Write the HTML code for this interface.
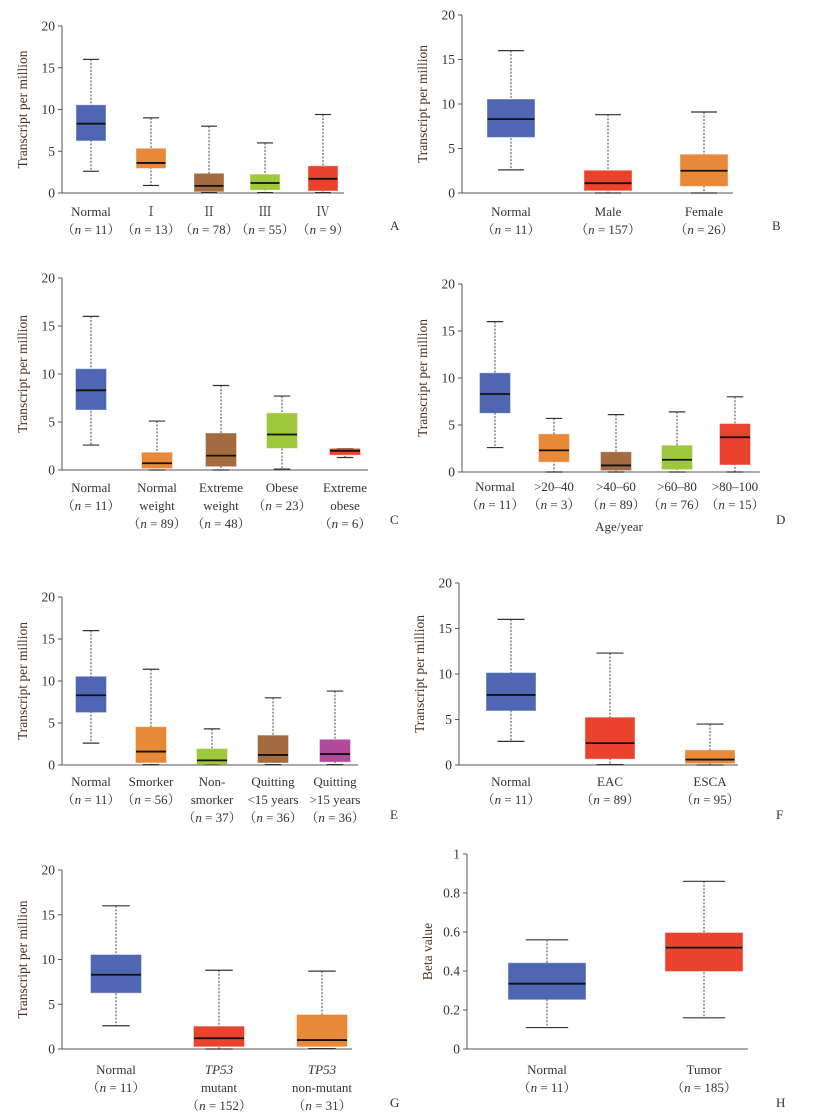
<!DOCTYPE html>
<html><head><meta charset="utf-8">
<style>
html,body{margin:0;padding:0;background:#fff;}
svg{display:block;}
text{font-family:"Liberation Serif","Noto Serif CJK SC",serif;fill:#333;}
</style></head>
<body>
<svg id="fig" width="816" height="1120" viewBox="0 0 816 1120" xmlns="http://www.w3.org/2000/svg"></svg>
<script>
// ---- data arrays (lo, q1, median, q3, hi) ----
const catsA=[["Normal","(n = 11)"],["Ⅰ","(n = 13)"],["Ⅱ","(n = 78)"],["Ⅲ","(n = 55)"],["Ⅳ","(n = 9)"]];
const loA=[2.6,0.9,0.05,0.05,0.05], q1A=[6.3,3.0,0.2,0.4,0.3], medA=[8.3,3.6,0.85,1.2,1.7], q3A=[10.5,5.3,2.3,2.2,3.2], hiA=[16,9,8,6,9.4];
const catsB=[["Normal","(n = 11)"],["Male","(n = 157)"],["Female","(n = 26)"]];
const loB=[2.6,0,0], q1B=[6.3,0.3,0.8], medB=[8.3,1.1,2.5], q3B=[10.5,2.5,4.3], hiB=[16,8.8,9.1];
const catsC=[["Normal","(n = 11)"],["Normal","weight","(n = 89)"],["Extreme","weight","(n = 48)"],["Obese","(n = 23)"],["Extreme","obese","(n = 6)"]];
const loC=[2.6,0,0,0.1,1.3], q1C=[6.3,0.2,0.4,2.3,1.6], medC=[8.3,0.7,1.5,3.7,2.0], q3C=[10.5,1.8,3.8,5.9,2.2], hiC=[16,5.1,8.8,7.7,2.2];
const catsD=[["Normal","(n = 11)"],[">20–40","(n = 3)"],[">40–60","(n = 89)"],[">60–80","(n = 76)"],[">80–100","(n = 15)"]];
const loD=[2.6,0,0,0,0], q1D=[6.3,1.1,0.2,0.3,0.8], medD=[8.3,2.3,0.7,1.3,3.7], q3D=[10.5,4.0,2.1,2.8,5.1], hiD=[16,5.7,6.1,6.4,8.0];
const catsE=[["Normal","(n = 11)"],["Smorker","(n = 56)"],["Non-","smorker","(n = 37)"],["Quitting","<15 years","(n = 36)"],["Quitting",">15 years","(n = 36)"]];
const loE=[2.6,0.05,0.05,0.05,0.05], q1E=[6.3,0.3,0.1,0.3,0.4], medE=[8.3,1.6,0.55,1.2,1.3], q3E=[10.5,4.5,1.9,3.5,3.0], hiE=[16,11.4,4.3,8.0,8.8];
const catsF=[["Normal","(n = 11)"],["EAC","(n = 89)"],["ESCA","(n = 95)"]];
const loF=[2.6,0.05,0], q1F=[6.0,0.7,0.2], medF=[7.7,2.4,0.6], q3F=[10.1,5.2,1.6], hiF=[16,12.3,4.5];
const catsG=[["Normal","(n = 11)"],["TP53","mutant","(n = 152)"],["TP53","non-mutant","(n = 31)"]];
const loG=[2.6,0,0.05], q1G=[6.3,0.3,0.3], medG=[8.3,1.2,1.0], q3G=[10.5,2.5,3.8], hiG=[16,8.8,8.7];
const catsH=[["Normal","(n = 11)"],["Tumor","(n = 185)"]];
const loH=[0.11,0.16], q1H=[0.255,0.40], medH=[0.335,0.52], q3H=[0.44,0.595], hiH=[0.56,0.86];
const ticksTPM=["0","5","10","15","20"];
const ticksBeta=["0","0.2","0.4","0.6","0.8","1"];

const BLUE="#4f66b3",OR="#e8893a",BR="#a56b40",GR="#9ec93c",RD="#e9432d",MG="#b04a9c";
const svg=document.getElementById('fig');
const NS="http://www.w3.org/2000/svg";
function mk(tag,attrs,parent){const e=document.createElementNS(NS,tag);for(const k in attrs)e.setAttribute(k,attrs[k]);(parent||svg).appendChild(e);return e;}

function panel(p){
  const g=mk('g',{});
  
  
  const ymax=p.ymax;
  const ys=v=>p.y0-(v/ymax)*(p.y0-p.ytop);
  const ax=mk('line',{x1:p.ax,y1:p.ytop,x2:p.ax,y2:p.y0,stroke:'#555','stroke-width':1},g);
  
  
  const bx=mk('line',{x1:p.ax-4,y1:p.y0,x2:p.xend,y2:p.y0,stroke:'#555','stroke-width':1},g);
  
  
  p.ticks.forEach((t,i)=>{
    const v=parseFloat(t), y=ys(v);
    mk('line',{x1:p.ax-4,y1:y,x2:p.ax,y2:y,stroke:'#555','stroke-width':1},g);
    const tx=mk('text',{x:p.ax-7,y:y+4.5,'text-anchor':'end','font-size':13.5},g);
    tx.textContent=t;
    
    
  });
  const cy=(p.ytop+p.y0)/2;
  const yt=mk('text',{x:0,y:0,'text-anchor':'middle','font-size':13.5,transform:`translate(${p.ax-35},${cy}) rotate(-90)`},g);
  yt.textContent=p.ytitle;
  yt.style.fill='#4a3020';
  
  
  p.cats.forEach((c,i)=>{
    const x=p.cx[i], w=p.bw/2;
    const gb=mk('g',{},g);
    
    
    mk('line',{x1:x,y1:ys(p.hi[i]),x2:x,y2:ys(p.lo[i]),stroke:'#444','stroke-width':1,'stroke-dasharray':'2,1.5'},gb);
    mk('line',{x1:x-w*0.55,y1:ys(p.hi[i]),x2:x+w*0.55,y2:ys(p.hi[i]),stroke:'#333','stroke-width':1.2},gb);
    mk('line',{x1:x-w*0.55,y1:ys(p.lo[i]),x2:x+w*0.55,y2:ys(p.lo[i]),stroke:'#333','stroke-width':1.2},gb);
    mk('rect',{x:x-w,y:ys(p.q3[i]),width:p.bw,height:ys(p.q1[i])-ys(p.q3[i]),fill:p.col[i],stroke:p.col[i],'stroke-opacity':0.6},gb);
    mk('line',{x1:x-w,y1:ys(p.med[i]),x2:x+w,y2:ys(p.med[i]),stroke:'#111','stroke-width':1.8},gb);
    c.forEach((line,j)=>{
      const t=mk('text',{x:x,y:p.ly+j*18,'text-anchor':'middle','font-size':13},g);
      
      
      if(line.startsWith('(n')){
        const num=line.slice(4,-1);
        t.appendChild(document.createTextNode('（'));
        const it=mk('tspan',{'font-style':'italic'},t); it.textContent='n';
        t.appendChild(document.createTextNode(' = '+num.replace('= ','').trim()+'）'));
      } else if(line==='TP53'){
        t.setAttribute('font-style','italic'); t.textContent=line;
      } else t.textContent=line;
    });
  });
  if(p.xtitle){
    const xt=mk('text',{x:p.xtx,y:p.xty,'text-anchor':'middle','font-size':13},g);
    xt.textContent=p.xtitle;
    
    
  }
  const L=mk('text',{x:p.lx,y:p.lyy,'font-size':13},g);
  L.textContent=p.letter;
  
  
}
const T="Transcript per million";
panel({letter:'A',ax:62,ytop:26,y0:193,xend:344,ymax:20,ticks:ticksTPM,ytitle:T,cats:catsA,lo:loA,q1:q1A,med:medA,q3:q3A,hi:hiA,cx:[91,151,209,265,323],bw:29,col:[BLUE,OR,BR,GR,RD],ly:216,lx:390,lyy:230});
panel({letter:'B',ax:462,ytop:15,y0:193,xend:733,ymax:20,ticks:ticksTPM,ytitle:T,cats:catsB,lo:loB,q1:q1B,med:medB,q3:q3B,hi:hiB,cx:[511,608,704],bw:47,col:[BLUE,RD,OR],ly:216,lx:772,lyy:230});
panel({letter:'C',ax:62,ytop:278,y0:470,xend:368,ymax:20,ticks:ticksTPM,ytitle:T,cats:catsC,lo:loC,q1:q1C,med:medC,q3:q3C,hi:hiC,cx:[91,157,221,282,345],bw:30,col:[BLUE,OR,BR,GR,RD],ly:492,lx:390,lyy:524});
panel({letter:'D',ax:462,ytop:284,y0:472,xend:760,ymax:20,ticks:ticksTPM,ytitle:T,cats:catsD,lo:loD,q1:q1D,med:medD,q3:q3D,hi:hiD,cx:[495,554,616,677,735],bw:30,col:[BLUE,OR,BR,GR,RD],ly:491,lx:776,lyy:524,xtitle:'Age/year',xtx:619,xty:531});
panel({letter:'E',ax:62,ytop:597,y0:765,xend:358,ymax:20,ticks:ticksTPM,ytitle:T,cats:catsE,lo:loE,q1:q1E,med:medE,q3:q3E,hi:hiE,cx:[91,151,212,273,335],bw:30,col:[BLUE,OR,GR,BR,MG],ly:786,lx:390,lyy:819});
panel({letter:'F',ax:459,ytop:583,y0:765,xend:738,ymax:20,ticks:ticksTPM,ytitle:T,cats:catsF,lo:loF,q1:q1F,med:medF,q3:q3F,hi:hiF,cx:[511,610,710],bw:49,col:[BLUE,RD,OR],ly:786,lx:776,lyy:819});
panel({letter:'G',ax:62,ytop:870,y0:1049,xend:352,ymax:20,ticks:ticksTPM,ytitle:T,cats:catsG,lo:loG,q1:q1G,med:medG,q3:q3G,hi:hiG,cx:[116,219,322],bw:50,col:[BLUE,RD,OR],ly:1074,lx:390,lyy:1107});
panel({letter:'H',ax:467,ytop:854,y0:1049,xend:748,ymax:1,ticks:ticksBeta,ytitle:'Beta value',cats:catsH,lo:loH,q1:q1H,med:medH,q3:q3H,hi:hiH,cx:[547,704],bw:77,col:[BLUE,RD],ly:1074,lx:776,lyy:1107});
</script>
</body></html>
